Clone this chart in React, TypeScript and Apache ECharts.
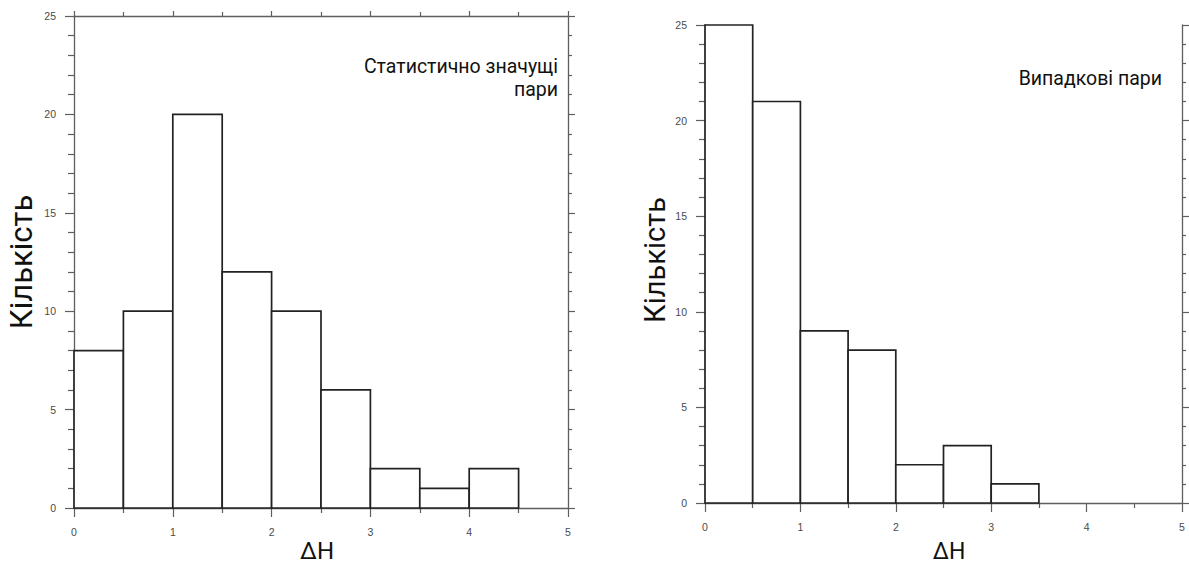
import React, { useEffect, useRef } from "react";
import * as echarts from "echarts";

const binStarts = [0, 0.5, 1, 1.5, 2, 2.5, 3, 3.5, 4];
const binWidth = 0.5;
const significantCounts = [8, 10, 20, 12, 10, 6, 2, 1, 2];
const randomCounts = [25, 21, 9, 8, 2, 3, 1, 0, 0];
const xTicks = [0, 1, 2, 3, 4, 5];
const yTicks = [0, 5, 10, 15, 20, 25];
const leftNote = "Статистично значущі\nпари";
const rightNote = "Випадкові пари";
const yName = "Кількість";
const xName = "ΔH";

const AXIS = "#5e5e5e";
const LABEL = "#4a4a4a";
const FONT = "Roboto";

function binData(counts: number[]) {
  return binStarts
    .map((s, i) => [s, s + binWidth, counts[i]])
    .filter((d) => d[2] > 0);
}

function renderBin(params: any, api: any) {
  const p0 = api.coord([api.value(0), api.value(2)]);
  const p1 = api.coord([api.value(1), 0]);
  return {
    type: "rect",
    shape: { x: p0[0], y: p0[1], width: p1[0] - p0[0], height: p1[1] - p0[1] },
    style: { fill: "#ffffff", stroke: "#222", lineWidth: 1.7 },
  };
}

function xAxisBase(gridIndex: number, position: string, labels: boolean) {
  return {
    type: "value",
    gridIndex,
    position,
    min: xTicks[0],
    max: xTicks[xTicks.length - 1],
    interval: 1,
    axisLine: { show: true, onZero: false, lineStyle: { color: AXIS, width: 1.3 } },
    axisTick: { show: true, inside: false, length: labels ? 9 : 5, lineStyle: { color: AXIS, width: 1.2 } },
    minorTick: { show: true, splitNumber: 2, length: labels ? 5 : 4, lineStyle: { color: AXIS, width: 1.2 } },
    axisLabel: {
      show: labels,
      fontFamily: "Liberation Sans",
      fontSize: 10.5,
      color: LABEL,
      margin: 18,
    },
    splitLine: { show: false },
    minorSplitLine: { show: false },
  };
}

function yAxisBase(gridIndex: number, position: string, labels: boolean) {
  return {
    type: "value",
    gridIndex,
    position,
    min: yTicks[0],
    max: yTicks[yTicks.length - 1],
    interval: 5,
    axisLine: { show: true, onZero: false, lineStyle: { color: AXIS, width: 1.3 } },
    axisTick: { show: true, inside: false, length: labels ? 9 : 7, lineStyle: { color: AXIS, width: 1.2 } },
    minorTick: { show: true, splitNumber: 5, length: labels ? 6 : 4, lineStyle: { color: AXIS, width: 1.2 } },
    axisLabel: {
      show: labels,
      fontFamily: "Liberation Sans",
      fontSize: 10.5,
      color: LABEL,
      margin: 18,
    },
    splitLine: { show: false },
    minorSplitLine: { show: false },
  };
}

function yTitle(x: number, y: number, size: number) {
  return {
    type: "text",
    x,
    y,
    rotation: Math.PI / 2,
    style: {
      text: yName,
      align: "center",
      verticalAlign: "middle",
      fontFamily: FONT,
      fontSize: size,
      fill: "#111",
    },
  };
}

function xTitle(x: number, y: number, size: number) {
  return {
    type: "text",
    x,
    y,
    style: {
      text: xName,
      align: "center",
      verticalAlign: "middle",
      fontFamily: FONT,
      fontSize: size,
      fill: "#111",
    },
  };
}

export default function App() {
  const ref = useRef<HTMLDivElement>(null);
  useEffect(() => {
    if (!ref.current) return;
    const chart = echarts.init(ref.current, null, { renderer: "svg" });
    chart.setOption({
      animation: false,
      backgroundColor: "#ffffff",
      grid: [
        { left: 74, top: 16, width: 494, height: 492 },
        { left: 705, top: 25, width: 477, height: 478 },
      ],
      xAxis: [
        xAxisBase(0, "bottom", true),
        xAxisBase(0, "top", false),
        xAxisBase(1, "bottom", true),
      ],
      yAxis: [
        yAxisBase(0, "left", true),
        yAxisBase(0, "right", false),
        yAxisBase(1, "left", true),
        yAxisBase(1, "right", false),
      ],
      graphic: [
        yTitle(21, 262, 31),
        yTitle(655, 260, 29),
        xTitle(317, 551, 24),
        xTitle(949, 551, 23),
        {
          type: "text",
          x: 558,
          y: 55,
          style: {
            text: leftNote,
            align: "right",
            verticalAlign: "top",
            fontFamily: FONT,
            fontSize: 19.5,
            lineHeight: 23,
            fill: "#111",
          },
        },
        {
          type: "text",
          x: 1162,
          y: 67,
          style: {
            text: rightNote,
            align: "right",
            verticalAlign: "top",
            fontFamily: FONT,
            fontSize: 19.5,
            lineHeight: 23,
            fill: "#111",
          },
        },
      ],
      series: [
        {
          type: "custom",
          xAxisIndex: 0,
          yAxisIndex: 0,
          renderItem: renderBin,
          encode: { x: [0, 1], y: 2 },
          data: binData(significantCounts),
          z: 5,
        },
        {
          type: "custom",
          xAxisIndex: 2,
          yAxisIndex: 2,
          renderItem: renderBin,
          encode: { x: [0, 1], y: 2 },
          data: binData(randomCounts),
          z: 5,
        },
      ],
    });
    return () => chart.dispose();
  }, []);
  return (
    <div
      ref={ref}
      style={{ position: "fixed", left: 0, top: 0, width: 1189, height: 565, background: "#fff" }}
    />
  );
}
